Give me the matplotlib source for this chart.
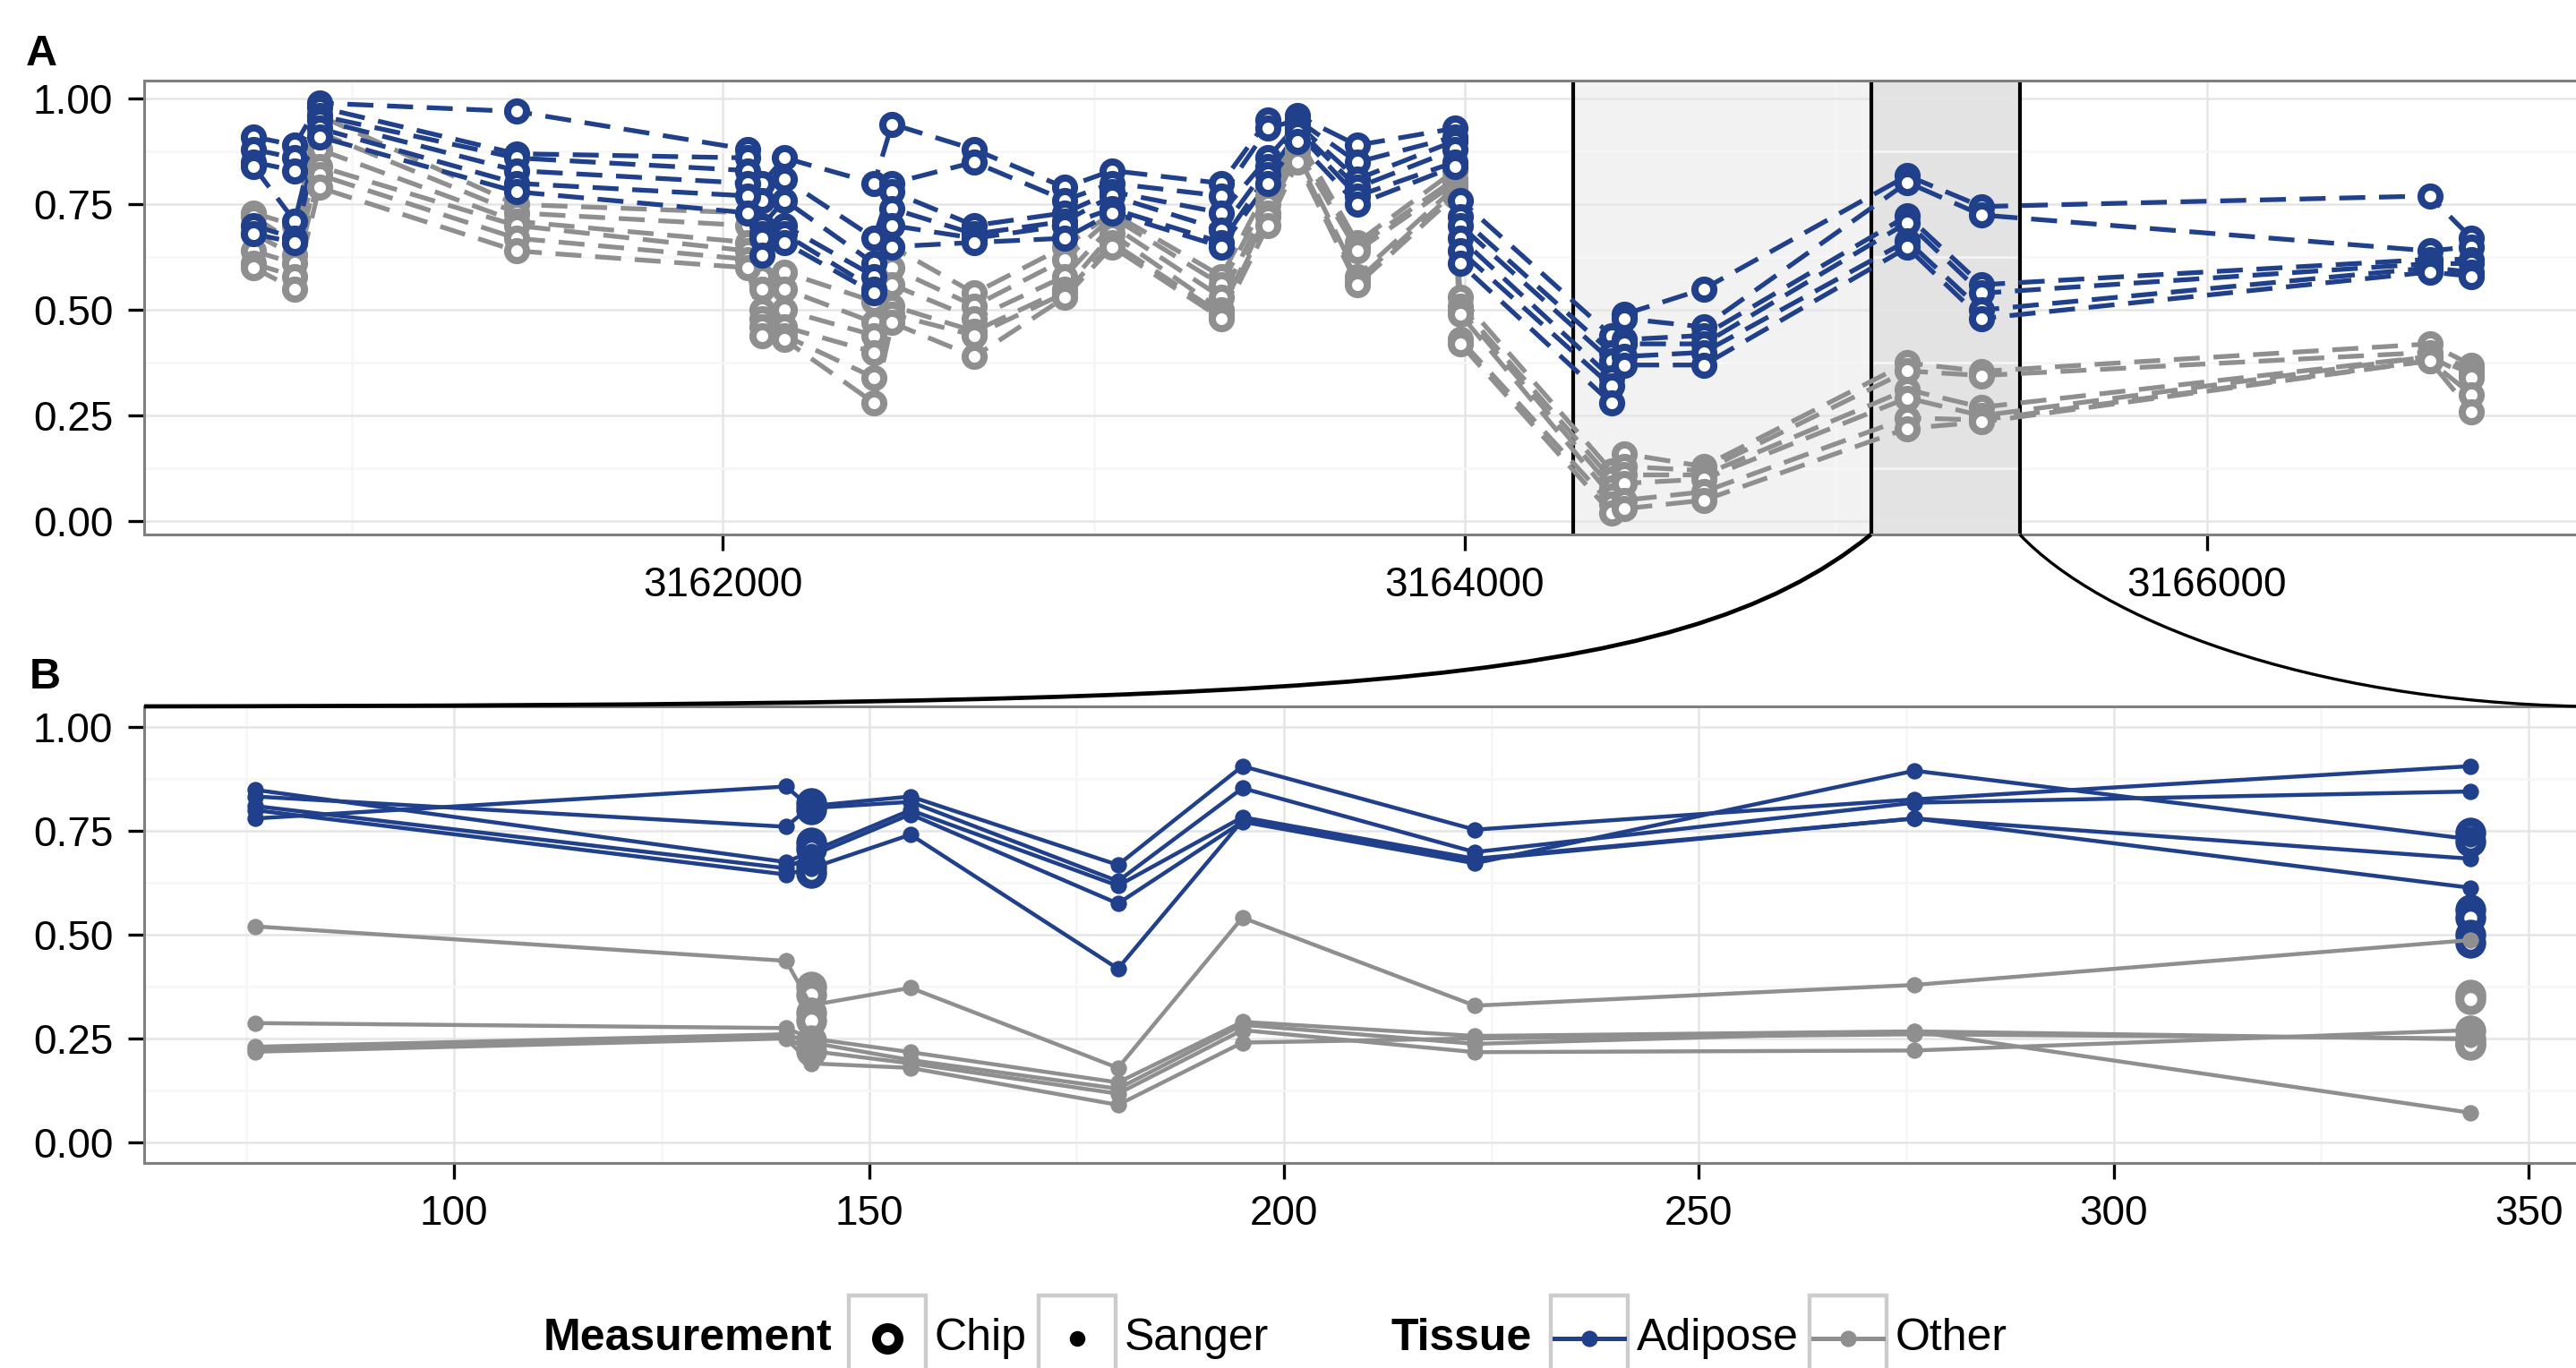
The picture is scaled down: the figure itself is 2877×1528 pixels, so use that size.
import numpy as np
import matplotlib
matplotlib.use("Agg")
import matplotlib.pyplot as plt
from matplotlib.lines import Line2D
from matplotlib.patches import Rectangle, PathPatch
from matplotlib.path import Path

plt.rcParams['font.family'] = ['Liberation Sans', 'DejaVu Sans']

# ---- panel A: chip CpG positions, one column of sample values per position ----
chip_pos = [3160735, 3160846, 3160912, 3161443, 3162068, 3162106, 3162166,
            3162408, 3162456, 3162678, 3162922, 3163049, 3163344, 3163469,
            3163549, 3163710, 3163973, 3163988, 3164395, 3164430, 3164644,
            3165193, 3165393, 3166601, 3166714]

chip_adipose_cols = [
    [0.91, 0.88, 0.85, 0.84, 0.70, 0.68],
    [0.89, 0.86, 0.83, 0.71, 0.67, 0.66],
    [0.99, 0.98, 0.96, 0.95, 0.93, 0.91],
    [0.97, 0.87, 0.86, 0.83, 0.80, 0.78],
    [0.88, 0.86, 0.83, 0.80, 0.77, 0.73],
    [0.80, 0.76, 0.70, 0.68, 0.67, 0.63],
    [0.86, 0.81, 0.76, 0.70, 0.68, 0.66],
    [0.80, 0.67, 0.61, 0.58, 0.55, 0.54],
    [0.94, 0.80, 0.78, 0.74, 0.70, 0.65],
    [0.88, 0.85, 0.70, 0.68, 0.67, 0.66],
    [0.79, 0.76, 0.73, 0.71, 0.70, 0.67],
    [0.83, 0.80, 0.78, 0.77, 0.74, 0.73],
    [0.80, 0.77, 0.73, 0.69, 0.66, 0.65],
    [0.95, 0.93, 0.86, 0.84, 0.82, 0.80],
    [0.96, 0.95, 0.94, 0.93, 0.92, 0.90],
    [0.89, 0.85, 0.81, 0.79, 0.77, 0.75],
    [0.93, 0.91, 0.90, 0.88, 0.85, 0.84],
    [0.76, 0.72, 0.70, 0.67, 0.64, 0.61],
    [0.44, 0.40, 0.38, 0.34, 0.32, 0.28],
    [0.49, 0.48, 0.43, 0.42, 0.39, 0.37],
    [0.55, 0.46, 0.44, 0.42, 0.40, 0.37],
    [0.818, 0.802, 0.723, 0.707, 0.664, 0.648],
    [0.745, 0.725, 0.56, 0.54, 0.50, 0.48],
    [0.77, 0.64, 0.62, 0.61, 0.60, 0.59],
    [0.67, 0.65, 0.62, 0.61, 0.59, 0.58],
]

chip_other_cols = [
    [0.73, 0.72, 0.68, 0.64, 0.61, 0.60],
    [0.70, 0.66, 0.63, 0.61, 0.58, 0.55],
    [0.96, 0.92, 0.88, 0.84, 0.82, 0.79],
    [0.75, 0.73, 0.71, 0.70, 0.67, 0.64],
    [0.73, 0.70, 0.66, 0.64, 0.62, 0.60],
    [0.58, 0.55, 0.50, 0.48, 0.46, 0.44],
    [0.59, 0.55, 0.50, 0.46, 0.44, 0.43],
    [0.52, 0.47, 0.44, 0.40, 0.34, 0.28],
    [0.65, 0.60, 0.56, 0.51, 0.49, 0.47],
    [0.54, 0.51, 0.48, 0.45, 0.44, 0.39],
    [0.65, 0.62, 0.58, 0.55, 0.54, 0.53],
    [0.73, 0.72, 0.70, 0.68, 0.66, 0.65],
    [0.58, 0.56, 0.53, 0.50, 0.49, 0.48],
    [0.79, 0.77, 0.75, 0.73, 0.72, 0.70],
    [0.91, 0.89, 0.88, 0.87, 0.86, 0.85],
    [0.66, 0.65, 0.64, 0.58, 0.57, 0.56],
    [0.83, 0.81, 0.80, 0.79, 0.78, 0.77],
    [0.53, 0.51, 0.50, 0.49, 0.43, 0.42],
    [0.12, 0.10, 0.08, 0.06, 0.04, 0.02],
    [0.16, 0.13, 0.11, 0.09, 0.05, 0.03],
    [0.13, 0.12, 0.11, 0.10, 0.07, 0.05],
    [0.375, 0.356, 0.312, 0.292, 0.245, 0.22],
    [0.355, 0.345, 0.27, 0.25, 0.24, 0.235],
    [0.42, 0.40, 0.39, 0.39, 0.38, 0.38],
    [0.37, 0.36, 0.35, 0.34, 0.30, 0.26],
]

region_light = (3164292, 3165095)
region_zoom = (3165095, 3165496)
zoom_offset = 3165050   # panel B position = genomic position - offset

# ---- panel B: Sanger positions, one row per sample ----
sanger_pos = [76, 140, 143, 155, 180, 195, 223, 276, 343]
sanger_adipose = [
    [0.78, 0.857, 0.805, 0.82, 0.629, 0.853, 0.699, 0.818, 0.845],
    [0.833, 0.76, 0.81, 0.833, 0.668, 0.906, 0.753, 0.826, 0.906],
    [0.849, 0.675, 0.70, 0.80, 0.618, 0.783, 0.683, 0.78, 0.683],
    [0.81, 0.66, 0.69, 0.79, 0.575, 0.772, 0.672, 0.895, 0.73],
    [0.80, 0.645, 0.66, 0.741, 0.418, 0.775, 0.68, 0.78, 0.613],
]
sanger_other = [
    [0.52, 0.437, 0.33, 0.372, 0.179, 0.541, 0.329, 0.379, 0.487],
    [0.287, 0.275, 0.25, 0.217, 0.144, 0.29, 0.256, 0.267, 0.071],
    [0.23, 0.26, 0.24, 0.198, 0.129, 0.283, 0.237, 0.267, 0.248],
    [0.225, 0.252, 0.22, 0.19, 0.117, 0.27, 0.217, 0.221, 0.27],
    [0.218, 0.25, 0.19, 0.179, 0.09, 0.24, 0.25, 0.26, 0.25],
]

BLUE = '#21408b'
GREY = '#8f8f8f'
W, H = 2877, 1528
FS = 16.5

chip_pos = np.array(chip_pos)
chip_adipose = np.array(chip_adipose_cols).T
chip_other = np.array(chip_other_cols).T

fig = plt.figure(figsize=(W / 200, H / 200), dpi=200)
ax_a = fig.add_axes([161 / W, 1 - 597 / H, 2722 / W, 507 / H])
ax_b = fig.add_axes([161 / W, 1 - 1299 / H, 2722 / W, 510 / H])


def style_axes(ax):
    ax.set_axisbelow(True)
    ax.grid(which='major', color='#e5e5e5', lw=0.9)
    ax.grid(which='minor', color='#f6f6f6', lw=0.9)
    for sp in ax.spines.values():
        sp.set_color('#7f7f7f')
        sp.set_linewidth(1.1)
    ax.tick_params(which='major', length=6.5, width=1.2, color='black',
                   labelsize=FS, pad=6)
    ax.tick_params(which='minor', length=0)
    ax.set_yticks([0, 0.25, 0.5, 0.75, 1.0])
    ax.set_yticks([0.125, 0.375, 0.625, 0.875], minor=True)
    ax.set_yticklabels(['0.00', '0.25', '0.50', '0.75', '1.00'])


# ---- panel A ----
ax_a.axvspan(*region_light, color='#f2f2f2', zorder=0.2, lw=0)
ax_a.axvspan(*region_zoom, color='#e3e3e3', zorder=0.2, lw=0)
for x in [region_light[0], region_zoom[0], region_zoom[1]]:
    ax_a.axvline(x, color='black', lw=1.5, zorder=1)

for data, col in [(chip_other, GREY), (chip_adipose, BLUE)]:
    for row in data:
        ax_a.plot(chip_pos, row, color=col, lw=1.9, dashes=(5.5, 2.9), zorder=2)
for data, col in [(chip_other, GREY), (chip_adipose, BLUE)]:
    for row in data:
        ax_a.plot(chip_pos, row, ls='none', marker='o', ms=7.6, mfc='white',
                  mec=col, mew=2.9, zorder=3)

ax_a.set_xlim(3160440, 3167010)
ax_a.set_ylim(-0.031, 1.043)
ax_a.set_xticks([3162000, 3164000, 3166000])
ax_a.set_xticks([3161000, 3163000, 3165000, 3167000], minor=True)
ax_a.set_xticklabels(['3162000', '3164000', '3166000'])
style_axes(ax_a)

# ---- panel B ----
b_pos = chip_pos - zoom_offset
in_b = (b_pos > 62) & (b_pos < 357)
for data, col in [(chip_other, GREY), (chip_adipose, BLUE)]:
    for row in data:
        ax_b.plot(b_pos[in_b], row[in_b], ls='none', marker='o', ms=8.8,
                  mfc='white', mec=col, mew=3.6, zorder=2)
for data, col in [(sanger_other, GREY), (sanger_adipose, BLUE)]:
    for row in data:
        ax_b.plot(sanger_pos, row, color=col, lw=1.6, zorder=3)
for data, col in [(sanger_other, GREY), (sanger_adipose, BLUE)]:
    for row in data:
        ax_b.plot(sanger_pos, row, ls='none', marker='o', ms=6.6, mfc=col,
                  mec=col, mew=0, zorder=4)

ax_b.set_xlim(62.65, 356.35)
ax_b.set_ylim(-0.05, 1.05)
ax_b.set_xticks([100, 150, 200, 250, 300, 350])
ax_b.set_xticks([75, 125, 175, 225, 275, 325], minor=True)
style_axes(ax_b)

fig.text(29 / W, 1 - 73 / H, 'A', fontsize=17.5, fontweight='bold', va='baseline')
fig.text(33 / W, 1 - 769 / H, 'B', fontsize=17.5, fontweight='bold', va='baseline')

# ---- zoom connector curves ----
to_fig = fig.transFigure.inverted()
p0 = ax_a.get_xaxis_transform().transform((region_zoom[0], 0))
p3 = ax_b.transAxes.transform((0, 1))
q0 = ax_a.get_xaxis_transform().transform((region_zoom[1], 0))
q3 = ax_b.transAxes.transform((1, 1))
left_curve = [p0, p0 + [-220, -178], [p0[0] - 620, p0[1] - 190], p3]
right_curve = [q0, q0 + [90, -95], [q0[0] + 320, q0[1] - 186], q3]
codes = [Path.MOVETO, Path.CURVE4, Path.CURVE4, Path.CURVE4]
for verts, lw in [(left_curve, 1.7), (right_curve, 1.2)]:
    path = Path(to_fig.transform(np.array(verts, dtype=float)), codes)
    fig.add_artist(PathPatch(path, transform=fig.transFigure, fill=False,
                             lw=lw, color='black', clip_on=False))

# ---- legend along the bottom ----
def fx(x):
    return x / W


def fy(y):
    return 1 - y / H


LY = 1495
KEY = 86
LFS = 18
fig.text(fx(607), fy(LY), 'Measurement', fontsize=LFS, fontweight='bold', va='center')
fig.text(fx(1554), fy(LY), 'Tissue', fontsize=LFS, fontweight='bold', va='center')
keys = [(948, 'Chip'), (1160, 'Sanger'), (1732, 'Adipose'), (2021, 'Other')]
for x0, label in keys:
    fig.add_artist(Rectangle((fx(x0), fy(1447 + KEY)), KEY / W, KEY / H,
                             transform=fig.transFigure, fc='white',
                             ec='#cccccc', lw=1.6, clip_on=False))
    fig.text(fx(x0 + KEY + 10), fy(LY), label, fontsize=LFS, va='center')
cx = [x0 + KEY / 2 for x0, _ in keys]
fig.add_artist(Line2D([fx(cx[0])], [fy(LY)], marker='o', ms=9, mfc='white',
                      mec='black', mew=3.6, transform=fig.transFigure))
fig.add_artist(Line2D([fx(cx[1])], [fy(LY)], marker='o', ms=6.3, mfc='black',
                      mec='black', mew=0, transform=fig.transFigure))
for (x0, _), col in zip(keys[2:], [BLUE, GREY]):
    fig.add_artist(Line2D([fx(x0 + 4), fx(x0 + KEY - 4)], [fy(LY), fy(LY)],
                          color=col, lw=1.8, transform=fig.transFigure))
    fig.add_artist(Line2D([fx(x0 + KEY / 2)], [fy(LY)], marker='o', ms=6.6,
                          mfc=col, mec=col, mew=0, transform=fig.transFigure))

fig.savefig('out.png', dpi=200)
